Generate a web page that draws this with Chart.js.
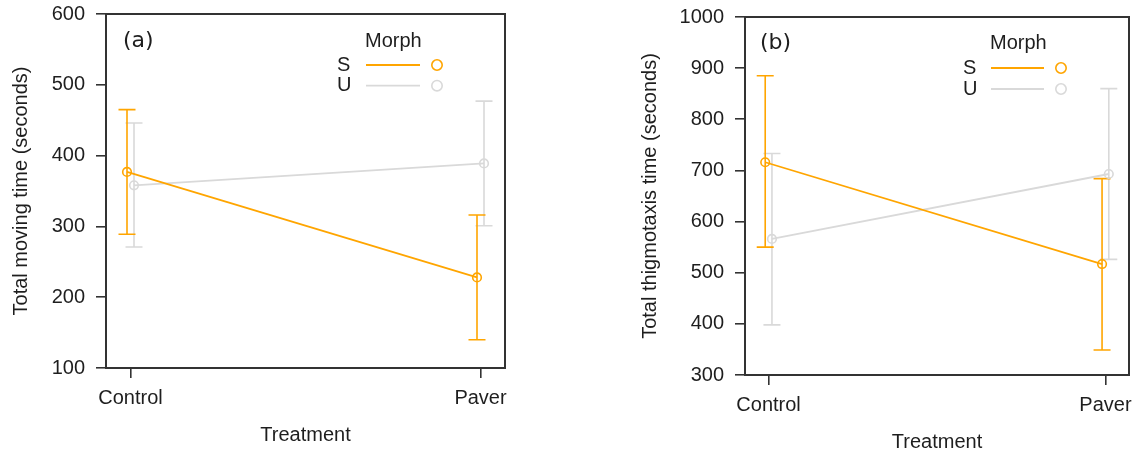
<!DOCTYPE html>
<html><head><meta charset="utf-8">
<script src="https://cdn.jsdelivr.net/npm/chart.js@4/dist/chart.umd.min.js"></script>
<style>
html,body{margin:0;padding:0;background:#fff;width:1147px;height:454px;overflow:hidden}
canvas{position:absolute;top:0}
#ca{left:0}
#cb{left:573px}
</style></head><body>
<canvas id="ca" width="573" height="454"></canvas>
<canvas id="cb" width="574" height="454"></canvas>
<script>
// ---- data ----
const categories = ['Control', 'Paver'];
const morphs = ['S', 'U'];
const legendTitle = 'Morph';
const xTitle = 'Treatment';

// panel (a) total moving time
const movingS = [377, 228];
const movingSLow = [289, 140];
const movingSHigh = [465, 316];
const movingU = [358, 389];
const movingULow = [271, 301];
const movingUHigh = [446, 477];
const movingTicks = [100, 200, 300, 400, 500, 600];

// panel (b) total thigmotaxis time
const thigS = [716, 517];
const thigSLow = [550, 349];
const thigSHigh = [885, 684];
const thigU = [566, 693];
const thigULow = [398, 526];
const thigUHigh = [733, 860];
const thigTicks = [300, 400, 500, 600, 700, 800, 900, 1000];

// ---- style ----
const colS = '#FFA500';
const colU = '#D9D9D9';
const axisCol = '#333333';
const textCol = '#1e1e1e';
const FONT = '"Liberation Sans", Arial, Helvetica, sans-serif';
const LABEL_FONT = '22px "DejaVu Sans", sans-serif';
const DODGE = 0.01;
const CAP = 8.5;

Chart.defaults.font.family = FONT;
Chart.defaults.font.size = 20;
Chart.defaults.color = textCol;

const errorBars = {
  id: 'errorBars',
  beforeDatasetsDraw(chart) {
    const {ctx, scales: {x, y}} = chart;
    const ds = chart.data.datasets;
    for (let d = ds.length - 1; d >= 0; d--) {
      const set = ds[d];
      if (!set.errLow) continue;
      ctx.save();
      ctx.strokeStyle = set.borderColor;
      ctx.lineWidth = 1.6;
      set.data.forEach((p, i) => {
        const px = x.getPixelForValue(p.x);
        const yl = y.getPixelForValue(set.errLow[i]);
        const yh = y.getPixelForValue(set.errHigh[i]);
        ctx.beginPath();
        ctx.moveTo(px, yl); ctx.lineTo(px, yh);
        ctx.moveTo(px - CAP, yl); ctx.lineTo(px + CAP, yl);
        ctx.moveTo(px - CAP, yh); ctx.lineTo(px + CAP, yh);
        ctx.stroke();
      });
      ctx.restore();
    }
  }
};

const decor = {
  id: 'decor',
  afterDraw(chart, args, opts) {
    const {ctx, chartArea: a} = chart;
    ctx.save();
    // box
    ctx.strokeStyle = axisCol;
    ctx.lineWidth = 2;
    ctx.strokeRect(a.left, a.top, a.right - a.left, a.bottom - a.top);
    // panel label
    ctx.fillStyle = textCol;
    ctx.textBaseline = 'middle';
    ctx.textAlign = 'left';
    ctx.font = LABEL_FONT;
    ctx.fillText(opts.label, a.left + opts.labelX, a.top + opts.labelY);
    // legend
    ctx.font = '20px ' + FONT;
    const L = opts.legend;
    ctx.fillText(legendTitle, a.left + L.titleX, a.top + L.titleY);
    const cols = [colS, colU];
    morphs.forEach((m, i) => {
      const yy = a.top + L.rowY + i * L.rowGap;
      ctx.fillStyle = textCol;
      ctx.fillText(m, a.left + L.textX, yy);
      ctx.strokeStyle = cols[i];
      ctx.lineWidth = 1.8;
      ctx.beginPath();
      ctx.moveTo(a.left + L.lineX0, yy);
      ctx.lineTo(a.left + L.lineX1, yy);
      ctx.stroke();
      ctx.lineWidth = 1.6;
      ctx.beginPath();
      ctx.arc(a.left + L.circX, yy, 5.2, 0, Math.PI * 2);
      ctx.stroke();
    });
    ctx.restore();
  }
};

function series(vals, off) {
  return vals.map((v, i) => ({x: i + 1 + off, y: v}));
}

function makeChart(id, o) {
  return new Chart(document.getElementById(id), {
    type: 'line',
    data: {
      datasets: [
        {label: morphs[0], data: series(o.s, -DODGE), errLow: o.sLow, errHigh: o.sHigh,
         borderColor: colS, backgroundColor: 'rgba(0,0,0,0)', borderWidth: 1.8,
         pointRadius: 4.3, pointBorderWidth: 1.6, pointBorderColor: colS,
         pointBackgroundColor: 'rgba(0,0,0,0)', tension: 0},
        {label: morphs[1], data: series(o.u, DODGE), errLow: o.uLow, errHigh: o.uHigh,
         borderColor: colU, backgroundColor: 'rgba(0,0,0,0)', borderWidth: 1.8,
         pointRadius: 4.3, pointBorderWidth: 1.6, pointBorderColor: colU,
         pointBackgroundColor: 'rgba(0,0,0,0)', tension: 0}
      ]
    },
    options: {
      responsive: false,
      animation: false,
      devicePixelRatio: 1,
      events: [],
      layout: {padding: {left: 0, top: o.top, right: o.right, bottom: 0}},
      plugins: {
        legend: {display: false},
        tooltip: {enabled: false},
        decor: o.decor
      },
      scales: {
        x: {
          type: 'linear',
          min: 0.93, max: 2.07,
          afterBuildTicks: s => { s.ticks = categories.map((c, i) => ({value: i + 1})); },
          afterFit: s => { s.height = o.xH; s.paddingLeft = 0; s.paddingRight = 0; },
          ticks: {
            autoSkip: false, maxRotation: 0, padding: 8, color: textCol,
            font: {size: 20},
            callback: v => categories[v - 1]
          },
          grid: {display: true, drawOnChartArea: false, drawTicks: true, tickLength: 10,
                 color: axisCol, lineWidth: 1.6},
          border: {display: false},
          title: {display: true, text: xTitle, color: textCol, font: {size: 20},
                  padding: {top: 0, bottom: o.xTitlePad}}
        },
        y: {
          type: 'linear',
          min: o.ticks[0], max: o.ticks[o.ticks.length - 1],
          afterBuildTicks: s => { s.ticks = o.ticks.map(v => ({value: v})); },
          afterFit: s => { s.width = o.yW; s.paddingTop = 0; s.paddingBottom = 0; },
          ticks: {padding: 11, color: textCol, font: {size: 20}, callback: v => String(v)},
          grid: {display: true, drawOnChartArea: false, drawTicks: true, tickLength: 10,
                 color: axisCol, lineWidth: 1.6},
          border: {display: false},
          title: {display: true, text: o.yTitle, color: textCol, font: {size: 20},
                  padding: {top: o.yTitlePad, bottom: 0}}
        }
      }
    },
    plugins: [errorBars, decor]
  });
}

makeChart('ca', {
  s: movingS, sLow: movingSLow, sHigh: movingSHigh,
  u: movingU, uLow: movingULow, uHigh: movingUHigh,
  ticks: movingTicks, yTitle: 'Total moving time (seconds)',
  top: 14, right: 68, xH: 86, yW: 106, yTitlePad: 9, xTitlePad: 7,
  decor: {label: '(a)', labelX: 17, labelY: 27,
          legend: {titleX: 259, titleY: 27, textX: 231, rowY: 51, rowGap: 20.7,
                   lineX0: 260, lineX1: 314, circX: 331}}
});

makeChart('cb', {
  s: thigS, sLow: thigSLow, sHigh: thigSHigh,
  u: thigU, uLow: thigULow, uHigh: thigUHigh,
  ticks: thigTicks, yTitle: 'Total thigmotaxis time (seconds)',
  top: 17, right: 18, xH: 79, yW: 172, yTitlePad: 65, xTitlePad: 0,
  decor: {label: '(b)', labelX: 15, labelY: 26,
          legend: {titleX: 245, titleY: 26, textX: 218, rowY: 51, rowGap: 21,
                   lineX0: 246, lineX1: 299, circX: 316}}
});
</script>
</body></html>
